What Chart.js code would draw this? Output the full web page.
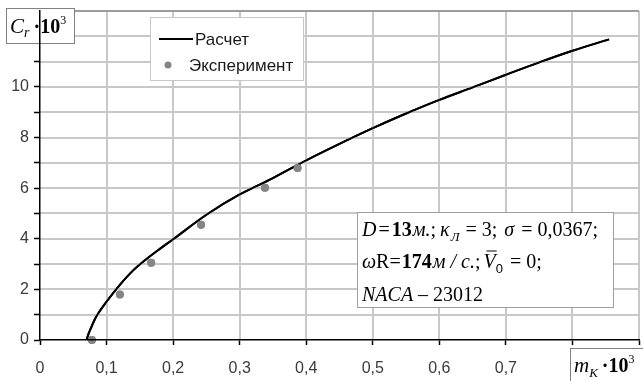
<!DOCTYPE html>
<html>
<head>
<meta charset="utf-8">
<script src="https://cdn.jsdelivr.net/npm/chart.js@4.4.1/dist/chart.umd.min.js"></script>
<style>
    html, body { margin: 0; padding: 0; background: #fff; }
</style>
</head>
<body>
<canvas id="thrustChart" width="643" height="381"></canvas>
<script>
// расчетная кривая C_T(m_K)
const calcX = [0.070, 0.073, 0.077, 0.083, 0.090, 0.100, 0.120, 0.140, 0.160, 0.180, 0.200, 0.250,
               0.300, 0.350, 0.400, 0.450, 0.500, 0.550, 0.600, 0.650, 0.700, 0.750, 0.800, 0.855];
const calcY = [0, 0.25, 0.5, 0.85, 1.15, 1.52, 2.18, 2.75, 3.2, 3.6, 3.98, 4.95,
               5.75, 6.4, 7.1, 7.75, 8.37, 8.95, 9.49, 9.98, 10.48, 10.97, 11.43, 11.88];

// эксперимент
const expX = [0.078, 0.120, 0.167, 0.242, 0.338, 0.387];
const expY = [0, 1.8, 3.05, 4.55, 6.02, 6.8];

const xTickLabels = ["0", "0,1", "0,2", "0,3", "0,4", "0,5", "0,6", "0,7", "", ""];
const yTickLabels = ["0", "", "2", "", "4", "", "6", "", "8", "", "10", "", "", ""];

const SERIF = '"Liberation Serif", "Times New Roman", serif';
const SANS = '"Liberation Sans", Arial, sans-serif';
const GRID = "#c8c8c8";

function toPoints(xs, ys) {
    return xs.map((x, i) => ({ x: x, y: ys[i] }));
}

function drawRuns(ctx, x, y, runs) {
    runs.forEach(r => {
        ctx.font = r.f;
        ctx.fillText(r.t, x, y + (r.dy || 0));
        const w = ctx.measureText(r.t).width;
        if (r.bar) {
            ctx.lineWidth = 1;
            ctx.beginPath();
            ctx.moveTo(x + 3, y - 17);
            ctx.lineTo(x + w + 1, y - 17);
            ctx.stroke();
        }
        x += w + (r.gap || 0);
    });
    return x;
}

function frame(ctx, x, y, w, h, color) {
    ctx.fillStyle = "#fff";
    ctx.fillRect(x, y, w, h);
    ctx.strokeStyle = color;
    ctx.lineWidth = 1;
    ctx.strokeRect(x + 0.5, y + 0.5, w, h);
}

function drawGrid(chart) {
    const { ctx, chartArea: a, scales: { x, y } } = chart;
    ctx.save();
    ctx.globalCompositeOperation = "source-over";
    ctx.globalAlpha = 1;
    ctx.setLineDash([]);
    ctx.lineWidth = 2;
    ctx.strokeStyle = GRID;
    x.ticks.forEach(t => {
        if (t.value === 0) return;
        const px = Math.round(x.getPixelForValue(t.value));
        ctx.beginPath();
        ctx.moveTo(px, a.top);
        ctx.lineTo(px, a.bottom);
        ctx.stroke();
    });
    y.ticks.forEach(t => {
        if (t.value === 0) return;
        const py = Math.round(y.getPixelForValue(t.value));
        ctx.strokeStyle = t.value === y.max ? "#9c9c9c" : GRID;
        ctx.beginPath();
        ctx.moveTo(a.left, py);
        ctx.lineTo(a.right, py);
        ctx.stroke();
    });
    ctx.restore();
}

const overlays = {
    id: "overlays",
    afterDatasetsDraw(chart) {
        const ctx = chart.ctx;
        const ds = chart.data.datasets;

        // сетка, затем кривая и точки поверх нее
        drawGrid(chart);
        const metas = chart.getSortedVisibleDatasetMetas();
        for (let i = metas.length - 1; i >= 0; i--) {
            metas[i].controller.draw();
        }

        ctx.save();
        ctx.textBaseline = "alphabetic";
        ctx.textAlign = "left";

        // легенда
        frame(ctx, 150, 17, 153, 63, "#c8c8c8");
        ctx.strokeStyle = ds[0].borderColor;
        ctx.lineWidth = 2;
        ctx.beginPath();
        ctx.moveTo(159, 39);
        ctx.lineTo(193, 39);
        ctx.stroke();
        ctx.fillStyle = "#1a1a1a";
        ctx.font = "17px " + SANS;
        ctx.fillText(ds[0].label, 195, 45);
        ctx.fillStyle = ds[1].backgroundColor;
        ctx.beginPath();
        ctx.arc(168, 65, 3.5, 0, Math.PI * 2);
        ctx.fill();
        ctx.fillStyle = "#1a1a1a";
        ctx.fillText(ds[1].label, 189, 71);

        // параметры винта
        frame(ctx, 357, 212, 256, 95, "#a0a0a0");
        ctx.fillStyle = "#000";
        ctx.strokeStyle = "#000";
        const it = "italic 20px " + SERIF, rg = "20px " + SERIF, bd = "bold 20px " + SERIF;
        const sub = "italic 13px " + SERIF;
        drawRuns(ctx, 362, 236, [
            { t: "D", f: it, gap: 2 }, { t: "=", f: rg, gap: 2 }, { t: "13", f: bd, gap: 1 }, { t: "м.", f: it },
            { t: ";", f: rg, gap: 4 }, { t: "κ", f: it, gap: 1 }, { t: "Л", f: sub, dy: 5, gap: 6 },
            { t: "= 3; ", f: rg, gap: 2 }, { t: "σ", f: it, gap: 2 }, { t: " = 0,0367;", f: rg }
        ]);
        drawRuns(ctx, 362, 268, [
            { t: "ω", f: it }, { t: "R", f: rg }, { t: "=", f: rg, gap: 1 }, { t: "174", f: bd, gap: 1 },
            { t: "м / с.", f: it }, { t: ";", f: rg, gap: 3 }, { t: "V", f: it, bar: true },
            { t: "0", f: "13px " + SANS, dy: 5, gap: 2 }, { t: " = 0;", f: rg }
        ]);
        drawRuns(ctx, 362, 301, [
            { t: "NACA", f: it }, { t: " – ", f: rg }, { t: "23012", f: rg }
        ]);

        // подписи осей
        frame(ctx, 6, 8, 68, 35, "#808080");
        ctx.fillStyle = "#000";
        drawRuns(ctx, 10, 33, [
            { t: "C", f: "italic 21px " + SERIF }, { t: "r", f: "italic 14px " + SERIF, dy: 4, gap: 4 },
            { t: "·", f: "bold 20px " + SERIF }, { t: "10", f: "bold 20px " + SERIF },
            { t: "3", f: "12px " + SERIF, dy: -9 }
        ]);
        frame(ctx, 570, 348, 80, 40, "#808080");
        ctx.fillStyle = "#000";
        drawRuns(ctx, 574, 372, [
            { t: "m", f: "italic 21px " + SERIF }, { t: "K", f: "italic 13px " + SERIF, dy: 5, gap: 4 },
            { t: "·", f: "bold 20px " + SERIF }, { t: "10", f: "bold 20px " + SERIF },
            { t: "3", f: "12px " + SERIF, dy: -9 }
        ]);
        ctx.restore();
    }
};

new Chart(document.getElementById("thrustChart"), {
    type: "scatter",
    data: {
        datasets: [{
            label: "Расчет",
            data: toPoints(calcX, calcY),
            showLine: true,
            borderColor: "#000",
            borderWidth: 2,
            pointRadius: 0,
            cubicInterpolationMode: "monotone",
            clip: false,
            order: 2
        }, {
            label: "Эксперимент",
            data: toPoints(expX, expY),
            backgroundColor: "#858585",
            borderWidth: 0,
            pointRadius: 4,
            clip: false,
            order: 1
        }]
    },
    options: {
        responsive: false,
        animation: false,
        devicePixelRatio: 1,
        layout: { padding: { top: 11, right: 0, left: 0, bottom: 0 } },
        plugins: {
            legend: { display: false },
            tooltip: { enabled: false }
        },
        scales: {
            x: {
                type: "linear",
                min: 0,
                max: 0.9,
                afterFit: s => {
                    s.height = 41;
                    s.paddingLeft = 0;
                    s.paddingRight = 0;
                },
                afterBuildTicks: s => {
                    s.ticks = xTickLabels.map((_, i) => ({ value: i / 10 }));
                },
                border: { color: "#000", width: 1.5, z: 1 },
                grid: { drawOnChartArea: false, tickColor: "#000", tickLength: 5, tickWidth: 1.5 },
                ticks: {
                    autoSkip: false,
                    maxRotation: 0,
                    padding: 14,
                    color: "#3a3a3a",
                    font: { family: SANS, size: 16 },
                    callback: (v, i) => xTickLabels[i]
                }
            },
            y: {
                min: 0,
                max: 13,
                afterFit: s => {
                    s.width = 40;
                    s.paddingTop = 0;
                    s.paddingBottom = 0;
                },
                border: { color: "#000", width: 1.5, z: 1 },
                grid: { drawOnChartArea: false, tickColor: "#000", tickLength: 6, tickWidth: 1.5 },
                ticks: {
                    stepSize: 1,
                    autoSkip: false,
                    padding: 5,
                    color: "#3a3a3a",
                    font: { family: SANS, size: 16 },
                    callback: v => yTickLabels[Math.round(v)]
                }
            }
        }
    },
    plugins: [overlays]
});
</script>
</body>
</html>
